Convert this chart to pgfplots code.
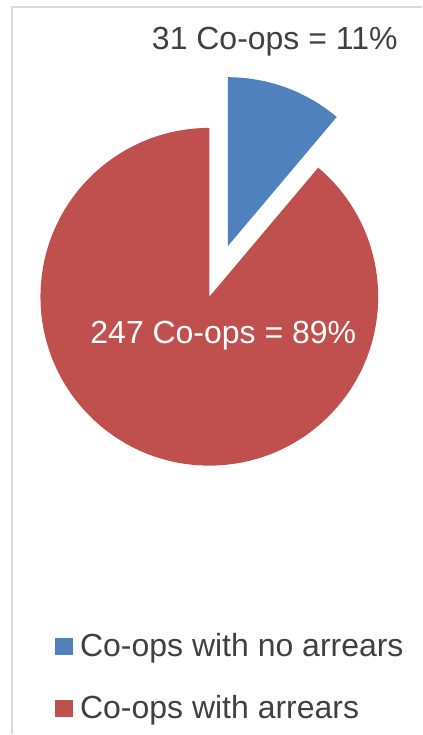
\documentclass[border=0pt]{standalone}
\usepackage{pgfplots}
\pgfplotsset{compat=1.18}
\usepackage{pgfplotstable}
\usepackage{fontspec}
\setmainfont{Liberation Sans}
\definecolor{pieblue}{HTML}{4F81BD}
\definecolor{piered}{HTML}{C0504D}
\definecolor{txt}{HTML}{404040}
\definecolor{framegray}{HTML}{D9D9D9}
\pgfplotstableread{
label value
noarrears 31
arrears 247
}\piedata
\begin{document}%
\begin{tikzpicture}
\pgfplotstablegetelem{0}{value}\of\piedata\let\va\pgfplotsretval
\pgfplotstablegetelem{1}{value}\of\piedata\let\vb\pgfplotsretval
\pgfmathsetmacro{\angA}{360*\va/(\va+\vb)}
\pgfmathsetmacro{\angB}{90-\angA}
\pgfmathsetmacro{\bis}{90-\angA/2}
\begin{axis}[
  hide axis, scale only axis, clip=false,
  width=211pt, height=367.5pt,
  xmin=0, xmax=422, ymin=0, ymax=735,
  legend style={at={(axis cs:55,106)}, anchor=north west, draw=none, fill=none,
    font=\fontsize{16}{19}\selectfont, text=txt, inner sep=0pt, row sep=14pt,
    /tikz/every odd column/.style={column sep=1.5pt}},
  legend cell align=left,
]
\path (axis cs:0,0) rectangle (axis cs:422,735);
\draw[framegray, line width=0.6pt] (axis cs:12,0) -- (axis cs:12,728) -- (axis cs:422,728);
\addlegendimage{legend image code/.code={\fill[pieblue] (0pt,-4pt) rectangle (8.5pt,4pt);}}
\addlegendentry{Co-ops with no arrears}
\addlegendimage{legend image code/.code={\fill[piered] (0pt,-4pt) rectangle (8.5pt,4pt);}}
\addlegendentry{Co-ops with arrears}
\fill[piered] (axis cs:209.5,438) -- ++(\angB:84.5pt) arc[start angle=\angB, end angle=-270, radius=84.5pt] -- cycle;
\fill[pieblue] (axis cs:209.5,438) ++(\bis:27pt) -- ++(90:84.5pt) arc[start angle=90, end angle=\angB, radius=84.5pt] -- cycle;
\node[anchor=base, text=txt, font=\fontsize{16}{19}\selectfont, inner sep=0pt] at (axis cs:275,685) {31 Co-ops = 11\%};
\node[anchor=base, text=white, font=\fontsize{16}{19}\selectfont, inner sep=0pt] at (axis cs:223.5,391) {247 Co-ops = 89\%};
\end{axis}
\end{tikzpicture}%
\end{document}
